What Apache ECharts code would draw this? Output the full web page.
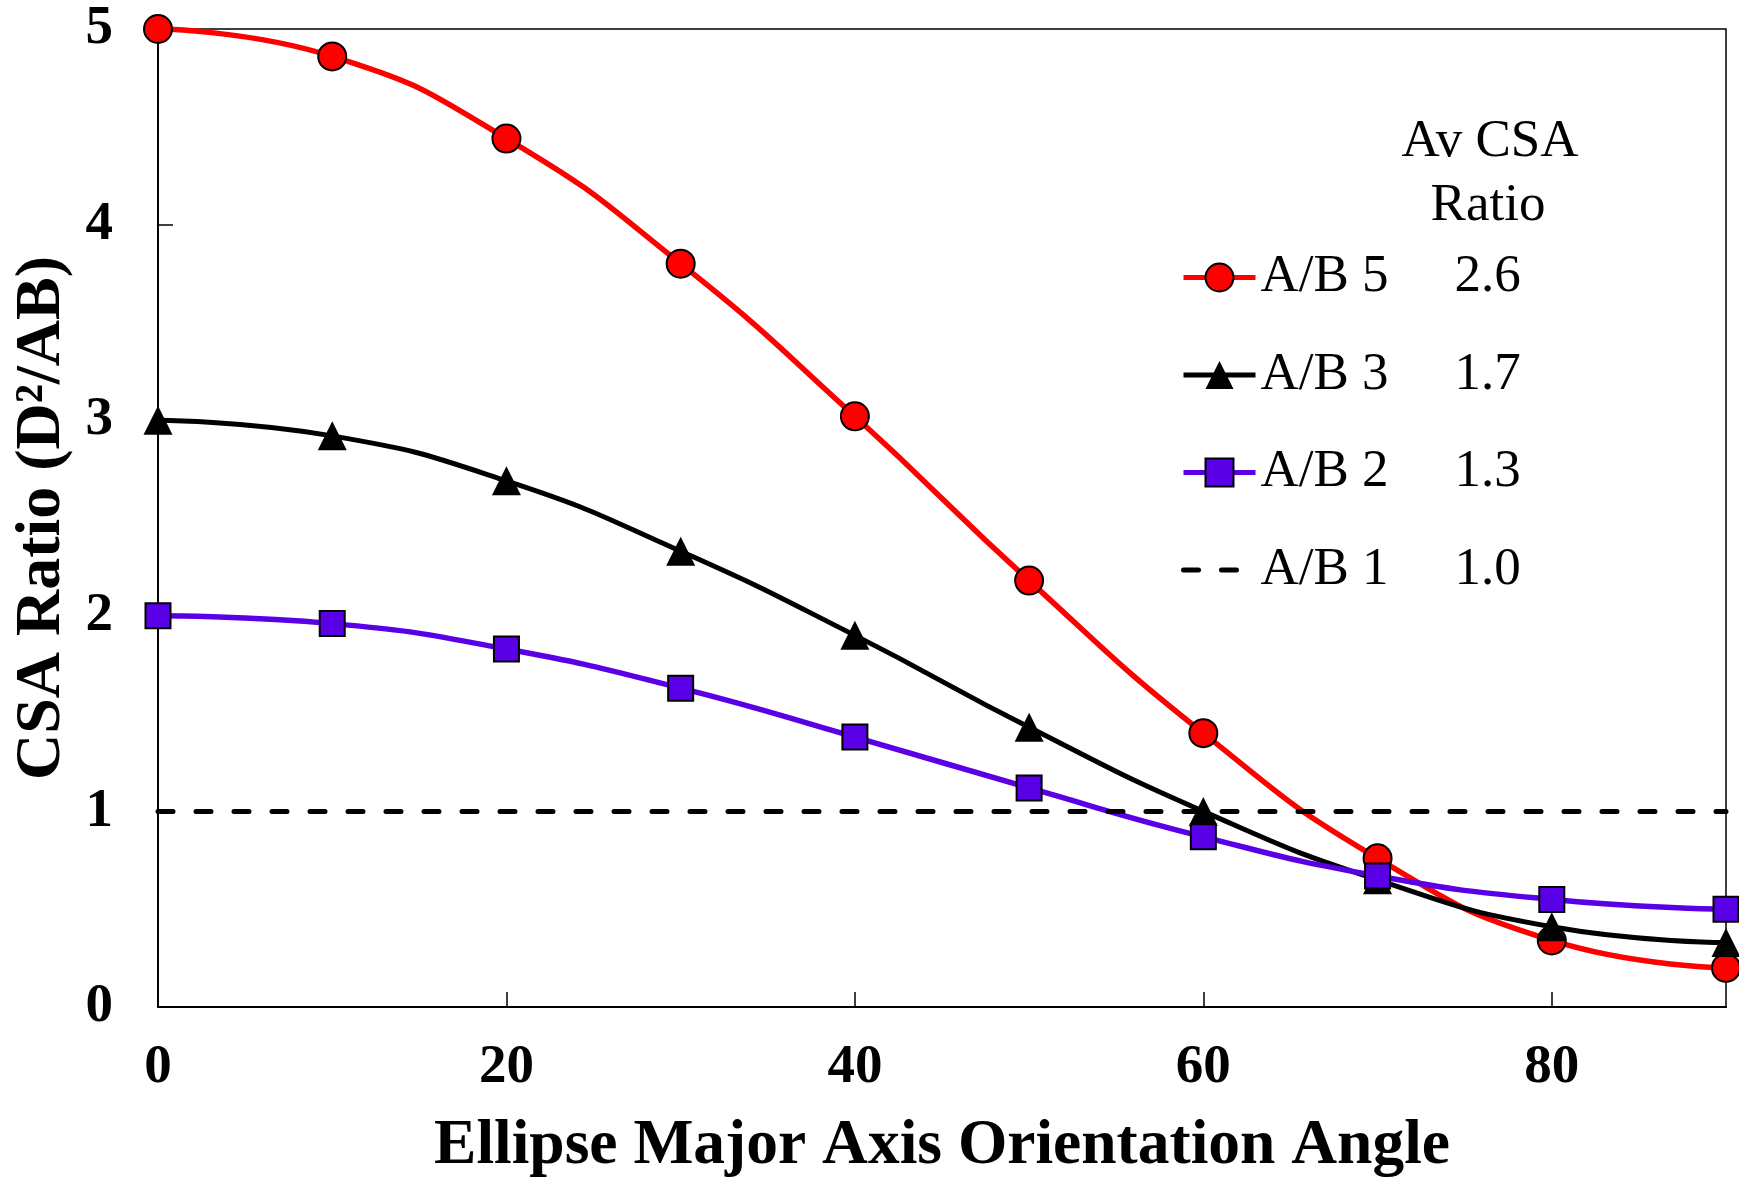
<!DOCTYPE html>
<html>
<head>
<meta charset="utf-8">
<script src="https://cdn.jsdelivr.net/npm/echarts@6/dist/echarts.min.js"></script>
<style>
  html, body { margin: 0; padding: 0; background: #fff; }
  #chart { width: 1739px; height: 1179px; }
</style>
</head>
<body>
<div id="chart"></div>
<script>
// orientation angle (deg)
const angles = [0, 10, 20, 30, 40, 50, 60, 70, 80, 90]

// CSA ratio
const ab5 = [5.0, 4.86, 4.44, 3.80, 3.02, 2.18, 1.40, 0.76, 0.34, 0.20]
const ab3 = [3.0, 2.92, 2.69, 2.33, 1.90, 1.43, 1.0, 0.65, 0.41, 0.33]
const ab2 = [2.0, 1.96, 1.83, 1.63, 1.38, 1.12, 0.87, 0.67, 0.55, 0.50]
const ab1X = [0, 90]
const ab1 = [1.0, 1.0]

const legendNames = ['A/B 5', 'A/B 3', 'A/B 2', 'A/B 1']
const avgRatio = ['2.6', '1.7', '1.3', '1.0']

const serif = 'Liberation Serif'
const pair = (xs, ys) => xs.map((x, i) => [x, ys[i]])

const myChart = echarts.init(document.getElementById('chart'))

const headerStyle = (text) => ({
  text,
  align: 'center',
  verticalAlign: 'middle',
  fontFamily: serif,
  fontSize: 53,
  fill: '#000',
})

const option = {
  animation: false,
  backgroundColor: '#fff',
  grid: {
    left: 158,
    right: 13,
    top: 29,
    bottom: 172,
    show: true,
    borderColor: '#000',
    borderWidth: 1.5,
    outerBoundsMode: 'none',
  },
  graphic: [
    { type: 'text', x: 1490, y: 142, style: headerStyle('Av CSA') },
    { type: 'text', x: 1488, y: 206, style: headerStyle('Ratio') },
  ],
  legend: {
    data: legendNames.map((name) =>
      name === 'A/B 1'
        ? { name, itemStyle: { color: 'rgba(0,0,0,0)', borderColor: 'rgba(0,0,0,0)', borderWidth: 0 } }
        : { name }
    ),
    orient: 'vertical',
    left: 1176,
    top: 246,
    itemWidth: 72,
    itemHeight: 35,
    itemGap: 44.5,
    lineStyle: { width: 5 },
    formatter: (name) => `{n|${name}}{v|${avgRatio[legendNames.indexOf(name)]}}`,
    textStyle: {
      color: '#000',
      fontFamily: serif,
      fontSize: 53,
      rich: {
        n: { width: 194, fontFamily: serif, fontSize: 53, lineHeight: 56, color: '#000' },
        v: { fontFamily: serif, fontSize: 53, lineHeight: 56, color: '#000' },
      },
    },
  },
  xAxis: {
    type: 'value',
    min: 0,
    max: 90,
    interval: 20,
    name: 'Ellipse Major Axis Orientation Angle',
    nameLocation: 'middle',
    nameGap: 108,
    nameTextStyle: { fontFamily: serif, fontWeight: 'bold', fontSize: 63.5, color: '#000' },
    splitLine: { show: false },
    axisLine: { lineStyle: { color: '#000', width: 2 } },
    axisTick: { inside: true, length: 15, lineStyle: { color: '#000', width: 1.5 } },
    axisLabel: {
      margin: 33,
      showMaxLabel: false,
      fontFamily: serif,
      fontWeight: 'bold',
      fontSize: 55,
      color: '#000',
    },
  },
  yAxis: {
    type: 'value',
    min: 0,
    max: 5,
    interval: 1,
    name: 'CSA Ratio (D²/AB)',
    nameLocation: 'middle',
    nameRotate: 90,
    nameGap: 80,
    nameTextStyle: { fontFamily: serif, fontWeight: 'bold', fontSize: 64, color: '#000' },
    splitLine: { show: false },
    axisLine: { lineStyle: { color: '#000', width: 2 } },
    axisTick: { inside: true, length: 15, lineStyle: { color: '#000', width: 1.5 } },
    axisLabel: {
      margin: 45,
      fontFamily: serif,
      fontWeight: 'bold',
      fontSize: 55,
      color: '#000',
    },
  },
  series: [
    {
      name: 'A/B 5',
      type: 'line',
      data: pair(angles, ab5),
      smooth: 0.5,
      symbol: 'circle',
      symbolSize: 28,
      itemStyle: { color: '#ff0000', borderColor: '#000', borderWidth: 2 },
      lineStyle: { color: '#ff0000', width: 5.5 },
    },
    {
      name: 'A/B 3',
      type: 'line',
      data: pair(angles, ab3),
      smooth: 0.5,
      symbol: 'triangle',
      symbolSize: 29,
      itemStyle: { color: '#000' },
      lineStyle: { color: '#000', width: 5 },
    },
    {
      name: 'A/B 2',
      type: 'line',
      data: pair(angles, ab2),
      smooth: 0.5,
      symbol: 'rect',
      symbolSize: 25,
      itemStyle: { color: '#5a00e6', borderColor: '#000', borderWidth: 2 },
      lineStyle: { color: '#5a00e6', width: 5.5 },
    },
    {
      name: 'A/B 1',
      type: 'line',
      data: pair(ab1X, ab1),
      symbol: 'none',
      itemStyle: { color: '#000' },
      lineStyle: { color: '#000', width: 5, type: [15, 23], cap: 'round' },
    },
  ],
}

myChart.setOption(option)
</script>
</body>
</html>
